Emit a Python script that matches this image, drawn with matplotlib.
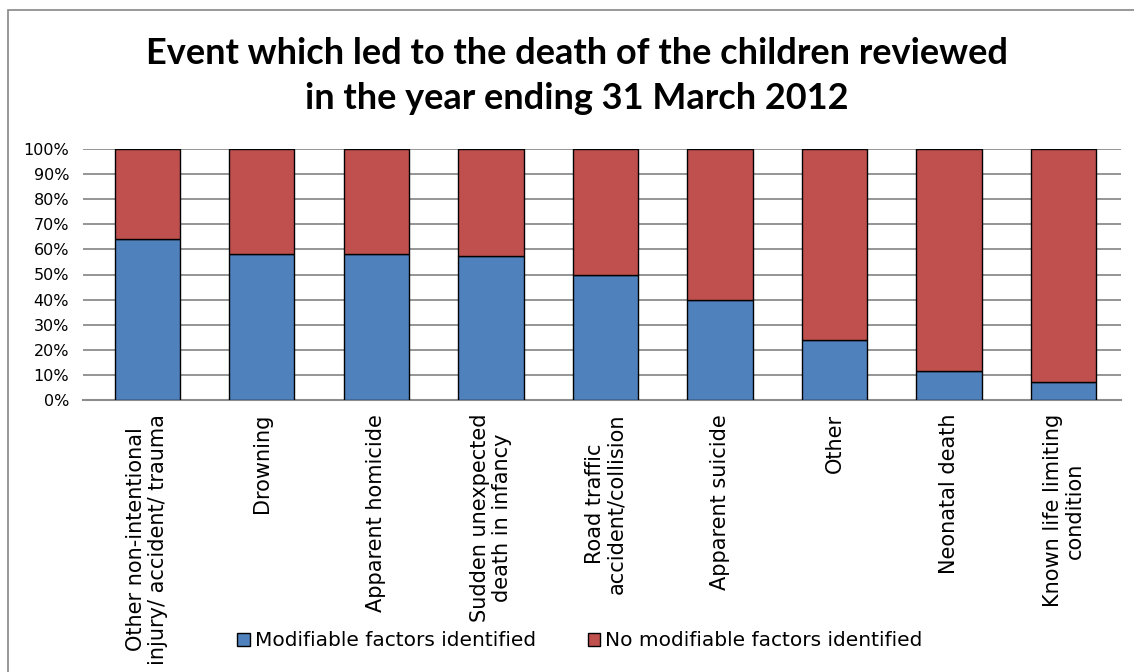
import matplotlib.pyplot as plt
from matplotlib.patches import Rectangle

categories = [
    "Other non-intentional\ninjury/ accident/ trauma",
    "Drowning",
    "Apparent homicide",
    "Sudden unexpected\ndeath in infancy",
    "Road traffic\naccident/collision",
    "Apparent suicide",
    "Other",
    "Neonatal death",
    "Known life limiting\ncondition",
]
modifiable = [64.3, 58.0, 58.0, 57.2, 50.0, 40.0, 23.8, 11.6, 7.0]
not_modifiable = [100 - v for v in modifiable]

blue = "#4F81BD"
red = "#C0504D"

plt.rcParams['font.family'] = ['DejaVu Sans']

fig = plt.figure(figsize=(11.34, 6.72), dpi=100)
W, H = 1134, 672

# outer chart border (bottom and right fall outside the picture)
fig.patches.append(Rectangle((8 / W, -0.1), 1.2, (H - 10) / H + 0.1,
                             transform=fig.transFigure, fill=False,
                             edgecolor="#868686", linewidth=1.2))

ax = fig.add_axes([83 / W, (H - 400) / H, (1121 - 83) / W, 251 / H])

x = range(len(categories))
ax.bar(x, modifiable, width=0.57, color=blue, edgecolor="black",
       linewidth=1, label="Modifiable factors identified", zorder=3)
ax.bar(x, not_modifiable, width=0.57, bottom=modifiable, color=red,
       edgecolor="black", linewidth=1, label="No modifiable factors identified",
       zorder=3)

ax.set_xlim(-0.56, 8.5)
ax.set_ylim(0, 100)
ax.set_yticks(range(0, 101, 10))
ax.set_yticklabels([f"{v}%" for v in range(0, 101, 10)], fontsize=11.5)
ax.yaxis.grid(True, color="#8C8C8C", linewidth=1.3, zorder=0)
ax.tick_params(axis="y", length=0, pad=10)
ax.tick_params(axis="x", length=0, pad=10)
ax.set_xticks(list(x))
ax.set_xticklabels(categories, rotation=90, fontsize=15, va="top",
                   ha="center", linespacing=1.1)
for s in ["left", "right", "top"]:
    ax.spines[s].set_visible(False)
ax.spines["bottom"].set_color("#8C8C8C")
ax.spines["bottom"].set_linewidth(1.5)

fig.text(577 / W, 1 - 76 / H,
         "Event which led to the death of the children reviewed\nin the year ending 31 March 2012",
         ha="center", va="center", fontsize=26, fontweight="bold",
         linespacing=1.45, family=['Lato', 'DejaVu Sans'])

leg = fig.legend(loc="center", bbox_to_anchor=(580 / W, 1 - 641 / H), ncol=2,
                 frameon=True, fontsize=14.5, handlelength=0.6,
                 handleheight=0.6, columnspacing=2.6, handletextpad=0.25,
                 borderpad=0.2)
leg.get_frame().set_facecolor("white")
leg.get_frame().set_edgecolor("none")
leg.get_frame().set_alpha(1)

fig.savefig("out.png", dpi=100)
